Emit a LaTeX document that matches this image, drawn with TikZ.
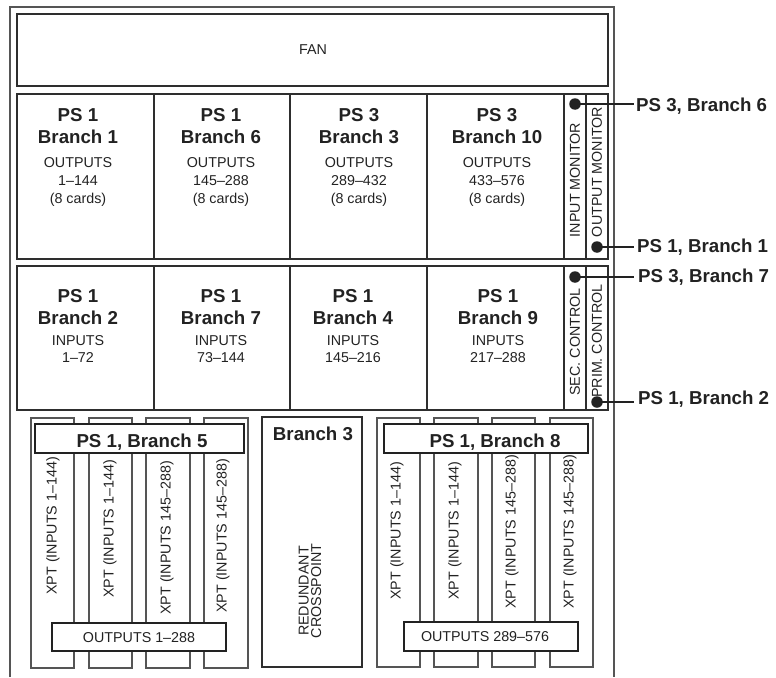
\documentclass[tikz,border=0pt]{standalone}
\usepackage{fontspec}
\setmainfont{Liberation Sans}
\definecolor{ink}{HTML}{222222}
\definecolor{rule}{HTML}{2e2e2e}
\definecolor{cardline}{HTML}{555555}
\definecolor{framec}{HTML}{555555}
\begin{document}
\begin{tikzpicture}[x=1pt,y=-1pt,
  box/.style={draw=rule,line width=1.5pt},
  frameline/.style={draw=framec,line width=1.1pt},
  card/.style={draw=cardline,line width=1.1pt},
  heavybox/.style={draw=ink,fill=white,line width=2.7pt},
  outbox/.style={draw=ink,fill=white,line width=2pt},
  callout/.style={draw=ink,line width=2pt},
  dot/.style={circle,fill=ink,inner sep=0pt,minimum size=11.5pt},
  lbl/.style={inner sep=0pt,text=ink,font=\fontsize{14.3}{16}\selectfont},
  bold/.style={inner sep=0pt,text=ink,font=\fontsize{18.7}{20}\selectfont\bfseries},
  vtext/.style={lbl,rotate=90},
  xpt/.style={lbl,rotate=90,anchor=east}
]
\useasboundingbox (0,0) rectangle (776,677);

% chassis outline, open at the bottom
\draw[frameline] (10,677) -- (10,7) -- (614,7) -- (614,677);

% fan tray
\draw[box] (17,14) rectangle (608,86);
\node[lbl] (fan) at (313,50) {FAN};

% output card row
\draw[box] (17,94) rectangle (608,259);
\foreach \x in {154,290,427,564,586} \draw[box] (\x,94) -- (\x,259);
\foreach \i/\x/\a/\b/\r in {1/78/PS 1/Branch 1/1–144,
                            2/221/PS 1/Branch 6/145–288,
                            3/359/PS 3/Branch 3/289–432,
                            4/497/PS 3/Branch 10/433–576}{
  \node[bold] (oa\i) at (\x,115) {\a};
  \node[bold] (ob\i) at (\x,137) {\b};
  \node[lbl] (oc\i) at (\x,163) {OUTPUTS};
  \node[lbl] (od\i) at (\x,181) {\r};
  \node[lbl] (oe\i) at (\x,200) {(8 cards)};
}
\node[vtext] (inmon) at (575,180) {INPUT MONITOR};
\node[vtext] (outmon) at (597,172) {OUTPUT MONITOR};

% input card row
\draw[box] (17,266) rectangle (608,410);
\foreach \x in {154,290,427,564,586} \draw[box] (\x,266) -- (\x,410);
\foreach \i/\x/\b/\r in {1/78/Branch 2/1–72,
                         2/221/Branch 7/73–144,
                         3/353/Branch 4/145–216,
                         4/498/Branch 9/217–288}{
  \node[bold] (ia\i) at (\x,296) {PS 1};
  \node[bold] (ib\i) at (\x,318) {\b};
  \node[lbl] (ic\i) at (\x,341) {INPUTS};
  \node[lbl] (id\i) at (\x,358) {\r};
}
\node[vtext] (secctl) at (575,342) {SEC. CONTROL};
\node[vtext] (primctl) at (597,341) {PRIM. CONTROL};

% power feed call-outs
\node[dot] (d1) at (575,104) {};
\node[dot] (d2) at (597,247) {};
\node[dot] (d3) at (575,277) {};
\node[dot] (d4) at (597,402) {};
\coordinate (e1) at (634,104);
\coordinate (e2) at (634,247);
\coordinate (e3) at (634,277);
\coordinate (e4) at (634,402);
\foreach \k in {1,2,3,4} \draw[callout] (d\k.center) -- (e\k);
\node[bold,anchor=base west] (l1) at (636,111) {PS 3, Branch 6};
\node[bold,anchor=base west] (l2) at (637,252) {PS 1, Branch 1};
\node[bold,anchor=base west] (l3) at (638,282) {PS 3, Branch 7};
\node[bold,anchor=base west] (l4) at (638,404) {PS 1, Branch 2};

% crosspoint cards, left group
\draw[card] (31,418) rectangle (74,668);
\draw[card] (89,418) rectangle (132,668);
\draw[card] (146,418) rectangle (190,668);
\draw[card] (204,418) rectangle (248,668);
\node[xpt] (x1) at (53,457) {XPT (INPUTS 1–144)};
\node[xpt] (x2) at (110,460) {XPT (INPUTS 1–144)};
\node[xpt] (x3) at (167,461) {XPT (INPUTS 145–288)};
\node[xpt] (x4) at (223,459) {XPT (INPUTS 145–288)};
\draw[heavybox] (35,424) rectangle (244,453);
\node[bold,anchor=base] (b5) at (142,447) {PS 1, Branch 5};
\draw[outbox] (52,623) rectangle (226,651);
\node[lbl] (o1) at (139,638) {OUTPUTS 1–288};

% redundant crosspoint
\draw[box,line width=1.1pt] (262,417) rectangle (362,667);
\node[bold] (b3) at (313,434) {Branch 3};
\node[vtext,align=center,font=\fontsize{14.3}{12.5}\selectfont] (redx) at (310,591) {REDUNDANT\\CROSSPOINT};

% crosspoint cards, right group
\draw[card] (377,418) rectangle (420,667);
\draw[card] (434,418) rectangle (478,667);
\draw[card] (492,418) rectangle (535,667);
\draw[card] (550,418) rectangle (593,667);
\node[xpt] (x5) at (397,462) {XPT (INPUTS 1–144)};
\node[xpt] (x6) at (455,462) {XPT (INPUTS 1–144)};
\node[xpt] (x7) at (512,455) {XPT (INPUTS 145–288)};
\node[xpt] (x8) at (570,455) {XPT (INPUTS 145–288)};
\draw[heavybox] (384,424) rectangle (588,453);
\node[bold,anchor=base] (b8) at (495,447) {PS 1, Branch 8};
\draw[outbox] (404,622) rectangle (578,651);
\node[lbl] (o2) at (485,637) {OUTPUTS 289–576};
\end{tikzpicture}
\end{document}
